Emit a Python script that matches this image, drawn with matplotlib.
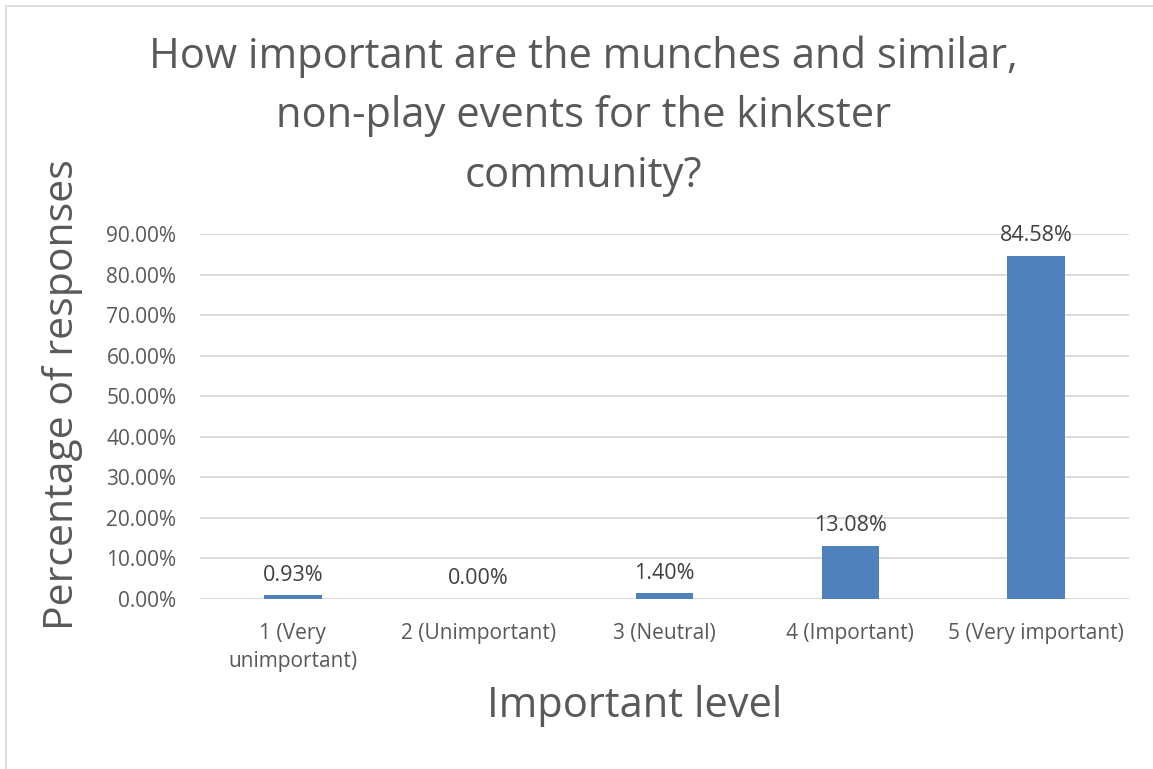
import matplotlib
matplotlib.use("Agg")
from matplotlib import pyplot as plt
from matplotlib.patches import Rectangle

categorias = ["1 (Very\nunimportant)", "2 (Unimportant)", "3 (Neutral)",
              "4 (Important)", "5 (Very important)"]
porcentajes = [0.93, 0.00, 1.40, 13.08, 84.58]
ticks_y = [0, 10, 20, 30, 40, 50, 60, 70, 80, 90]

GRIS_TEXTO = "#595959"
AZUL = "#4F81BD"

plt.rcParams['font.family'] = ['Open Sans', 'DejaVu Sans']

fig = plt.figure(figsize=(11.53, 7.69), dpi=100)
ax = fig.add_axes([200 / 1153, 1 - 599 / 769, 929 / 1153, 365 / 769])

x = list(range(len(categorias)))
ax.bar(x, porcentajes, width=0.31, color=AZUL, zorder=3)

for xi, v in zip(x, porcentajes):
    ax.annotate(f"{v:.2f}%", (xi, v), xytext=(0, 7), textcoords='offset points',
                ha='center', va='bottom', fontsize=15.5, color="#404040")

ax.set_xlim(-0.5, len(categorias) - 0.5)
ax.set_ylim(0, 90)
ax.set_yticks(ticks_y)
ax.set_yticklabels([f"{t:.2f}%" for t in ticks_y])
ax.set_xticks(x)
ax.set_xticklabels(categorias, linespacing=1.45)
ax.tick_params(axis='both', length=0, labelsize=15, colors=GRIS_TEXTO)
ax.tick_params(axis='x', pad=17)
ax.tick_params(axis='y', pad=17)
ax.grid(axis='y', color="#D9D9D9", linewidth=1.3, zorder=0)
for s in ax.spines.values():
    s.set_visible(False)
ax.axhline(0, color="#D9D9D9", linewidth=1.3, zorder=1)

fig.text(63 / 1153, 1 - 395 / 769, "Percentage of responses", rotation=90,
         ha='center', va='center', fontsize=29.5, color=GRIS_TEXTO)
fig.text(635 / 1153, 1 - 706 / 769, "Important level",
         ha='center', va='center', fontsize=30, color=GRIS_TEXTO)

fig.text(583 / 1153, 1 - 116 / 769,
         "How important are the munches and similar,\nnon-play events for the kinkster\ncommunity?",
         ha='center', va='center', fontsize=30, color=GRIS_TEXTO, linespacing=1.55)

# borde del grafico
fig.patches.append(Rectangle((6 / 1153, -0.01), 1.1, 1 - 6 / 769 + 0.01,
                             transform=fig.transFigure, fill=False,
                             edgecolor="#D9D9D9", linewidth=1.2))

fig.savefig("out.png", dpi=100)
